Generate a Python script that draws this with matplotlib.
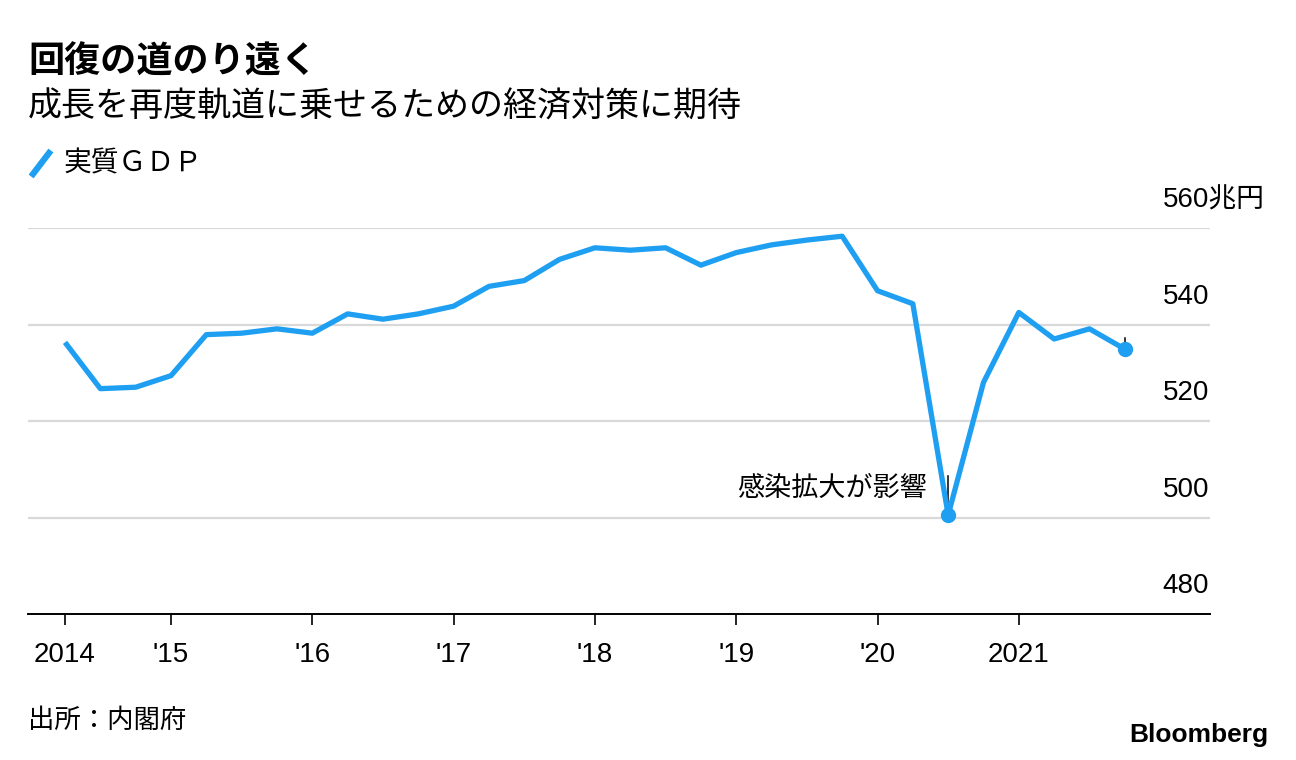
import numpy as np
import matplotlib
matplotlib.use('Agg')
import matplotlib.pyplot as plt

plt.rcParams['font.family'] = ['Noto Sans CJK JP', 'DejaVu Sans']

# Daten: reales BIP, Quartale 2014 Q1 bis 2021 Q3 (Billionen Yen)
jahre = [2014] * 4 + [2015] * 4 + [2016] * 4 + [2017] * 4 + [2018] * 4 + [2019] * 4 + [2020] * 4 + [2021] * 3
quartale = [1, 2, 3, 4] * 7 + [1, 2, 3]
gdp = [536.3, 526.7, 527.0, 529.4,
       537.9, 538.2, 539.1, 538.2,
       542.2, 541.1, 542.2, 543.8,
       547.9, 549.1, 553.5, 555.9,
       555.4, 555.9, 552.3, 554.9,
       556.5, 557.5, 558.3, 547.0,
       544.3, 500.5, 528.0, 542.5,
       537.0, 539.1, 534.9]

xtick_pos = [2014.25, 2015, 2016, 2017, 2018, 2019, 2020, 2021]
xtick_labels = ['2014', "'15", "'16", "'17", "'18", "'19", "'20", '2021']
yticks = [480, 500, 520, 540, 560]
ytick_labels = ['480', '500', '520', '540', '560兆円']

title = '回復の道のり遠く'
subtitle = '成長を再度軌道に乗せるための経済対策に期待'
legend_label = '実質ＧＤＰ'
annot_text = '感染拡大が影響'
source = '出所：内閣府'

blau = '#1f9ff2'
W, H = 1296, 760

# x = Quartalsende
x = np.array(jahre) + np.array(quartale) * 0.25
y = np.array(gdp)

fig = plt.figure(figsize=(W / 100, H / 100), dpi=100)
ax = fig.add_axes([28 / W, 1 - 614 / H, (1210 - 28) / W, (614 - 228) / H])

ax.set_xlim(2013.988, 2022.353)
ax.set_ylim(480, 560)

for v in yticks[1:]:
    ax.axhline(v, color='#d9d9d9', lw=1.6, zorder=1)

ax.plot(x, y, color=blau, lw=3.8, solid_joinstyle='round', solid_capstyle='butt', zorder=3, clip_on=False)

# Annotation Tiefpunkt
i_min = int(np.argmin(y))
ax.plot([x[i_min], x[i_min]], [y[i_min], y[i_min] + 8], color='black', lw=1.1, zorder=2)
ax.plot(x[i_min], y[i_min], 'o', color=blau, ms=10, zorder=4, clip_on=False)
ax.text(x[i_min] - 0.15, y[i_min] + 5.6, annot_text, ha='right', va='center', fontsize=19.5)

# letzter Punkt
ax.plot([x[-1], x[-1]], [y[-1], y[-1] + 2.2], color='black', lw=1.1, zorder=2)
ax.plot(x[-1], y[-1], 'o', color=blau, ms=10, zorder=4, clip_on=False)

# y-Beschriftung rechts oberhalb der Linien
for v, lab in zip(yticks, ytick_labels):
    ax.text(0.960, v + 5.8, lab, transform=ax.get_yaxis_transform(), ha='left', va='center',
            fontsize=20, family=['Liberation Sans', 'Noto Sans CJK JP'])
ax.set_yticks([])

for s in ['top', 'right', 'left']:
    ax.spines[s].set_visible(False)
ax.spines['bottom'].set_linewidth(1.4)
ax.set_xticks(xtick_pos)
ax.set_xticklabels(xtick_labels, fontsize=20, family='Liberation Sans')
ax.tick_params(axis='x', length=8, width=1.2, pad=12, direction='out')

# Titel, Legende, Quelle
fig.text(28 / W, 1 - 62 / H, title, fontsize=26, fontweight='bold', va='center', ha='left')
fig.text(28 / W, 1 - 107 / H, subtitle, fontsize=24.5, va='center', ha='left')
fig.add_artist(plt.Line2D([33 / W, 49 / W], [1 - 174 / H, 1 - 153 / H], color=blau, lw=4.5))
fig.text(64 / W, 1 - 163 / H, legend_label, fontsize=20, va='center', ha='left')
fig.text(28 / W, 1 - 720 / H, source, fontsize=19, va='center', ha='left')
fig.text(1268 / W, 1 - 735 / H, 'Bloomberg', fontsize=19, fontweight='bold', va='center', ha='right',
         family='Liberation Sans')

plt.savefig('out.png', dpi=100)
